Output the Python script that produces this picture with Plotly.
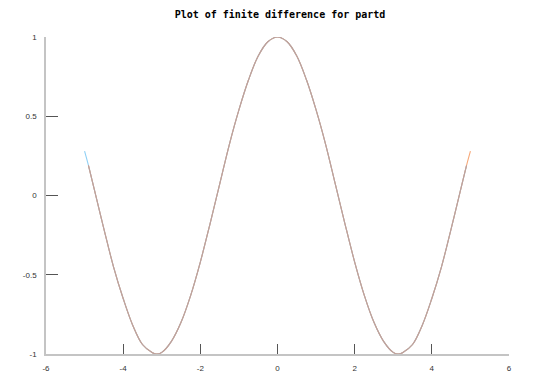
import plotly.graph_objects as go

# values
x_vals = [-5, -4.9, -4.75, -4.5, -4.25, -4, -3.75, -3.5, -3.25, -3.125, -3, -2.75, -2.5, -2.25,
          -2, -1.75, -1.5, -1.25, -1, -0.75, -0.5, -0.25, 0, 0.25, 0.5, 0.75, 1, 1.25,
          1.5, 1.75, 2, 2.25, 2.5, 2.75, 3, 3.125, 3.25, 3.5, 3.75, 4, 4.25, 4.5, 4.75, 4.9, 5]
y_vals = [0.28, 0.19, 0.04, -0.21, -0.45, -0.65, -0.82, -0.94, -0.99, -1.00, -0.99, -0.92, -0.80, -0.63,
          -0.42, -0.18, 0.07, 0.32, 0.54, 0.73, 0.88, 0.97, 1.00, 0.97, 0.88, 0.73, 0.54, 0.32,
          0.07, -0.18, -0.42, -0.63, -0.80, -0.92, -0.99, -1.00, -0.99, -0.94, -0.82, -0.65, -0.45, -0.21, 0.04, 0.19, 0.28]

x_ticks = [-6, -4, -2, 0, 2, 4, 6]
y_ticks = [-1, -0.5, 0, 0.5, 1]
y_tick_labels = ["-1", "-0.5", "0", "0.5", "1"]
title = "Plot of finite difference for partd"

fig = go.Figure()
fig.add_trace(go.Scatter(x=x_vals[:-1], y=y_vals[:-1], mode="lines", line=dict(color="#8fd0f5", width=1.1, shape="spline"), name="forward"))
fig.add_trace(go.Scatter(x=x_vals[1:], y=y_vals[1:], mode="lines", line=dict(color="#f7a878", width=1.1, shape="spline"), name="backward"))
fig.add_trace(go.Scatter(x=x_vals[1:-1], y=y_vals[1:-1], mode="lines", line=dict(color="#b8a2a2", width=1.1, shape="spline"), name="central"))

fig.update_layout(
    width=560, height=383,
    margin=dict(l=46, r=51, t=37, b=29),
    paper_bgcolor="white", plot_bgcolor="white",
    showlegend=False,
    title=dict(text="<b>" + title + "</b>", x=0.5, xanchor="center", y=1 - 14/383, yanchor="middle",
               font=dict(family="DejaVu Sans Mono", size=10, color="#000")),
    xaxis=dict(range=[-6, 6], tickvals=x_ticks, ticktext=[str(v) for v in x_ticks],
               ticks="inside", ticklen=10, tickcolor="#555", tickwidth=1.3,
               showline=True, linecolor="#c4c4c4", linewidth=1.5, showgrid=False, zeroline=False,
               ticklabelstandoff=6, automargin=False,
               tickfont=dict(family="Liberation Sans", size=8, color="#333")),
    yaxis=dict(range=[-1, 1], tickvals=y_ticks, ticktext=y_tick_labels,
               ticks="inside", ticklen=12, tickcolor="#555", tickwidth=1.3,
               showline=True, linecolor="#c4c4c4", linewidth=1.5, showgrid=False, zeroline=False,
               ticklabelstandoff=6, automargin=False,
               tickfont=dict(family="Liberation Sans", size=8, color="#333")),
)

fig.write_html("out.html")
